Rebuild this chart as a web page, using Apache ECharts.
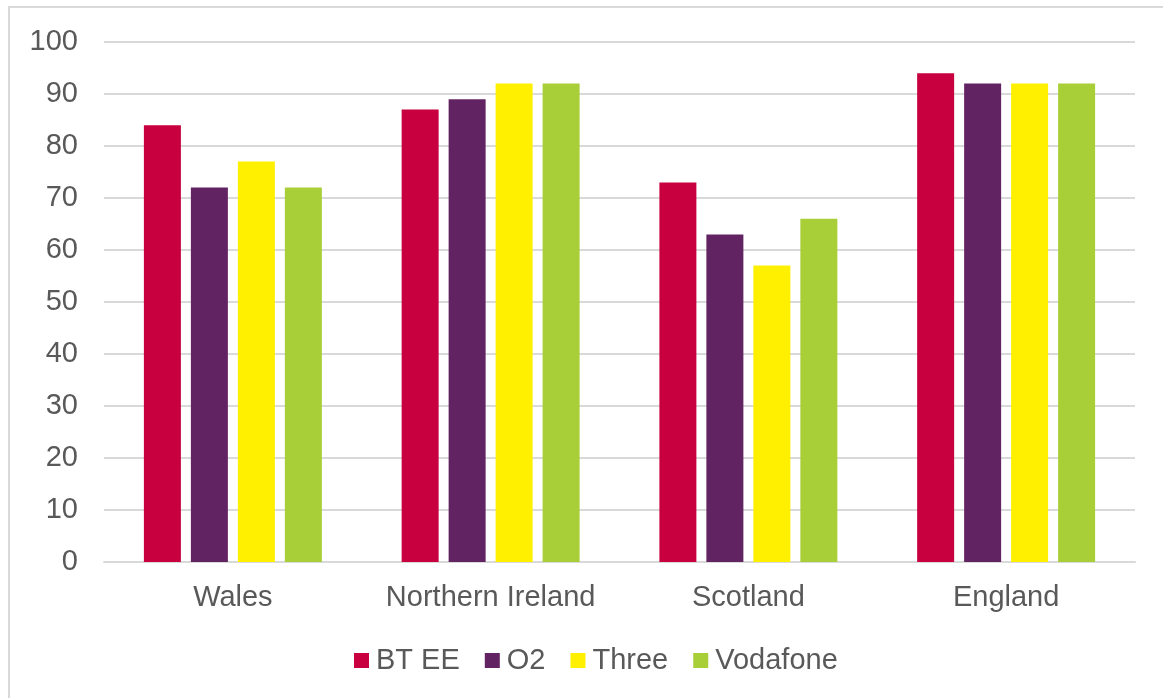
<!DOCTYPE html>
<html>
<head>
<meta charset="utf-8">
<script src="https://cdn.jsdelivr.net/npm/echarts@6/dist/echarts.min.js"></script>
<style>
html,body{margin:0;padding:0;background:#fff;}
#chart{width:1163px;height:698px;}
</style>
</head>
<body>
<div id="chart"></div>
<script>
const categories = ['Wales', 'Northern Ireland', 'Scotland', 'England'];
const seriesNames = ['BT EE', 'O2', 'Three', 'Vodafone'];
const btee = [84, 87, 73, 94];
const o2 = [72, 89, 63, 92];
const three = [77, 92, 57, 92];
const vodafone = [72, 92, 66, 92];
const colors = ['#C8003F', '#622363', '#FFF000', '#A8CE38'];
const yTicks = { min: 0, max: 100, interval: 10 };

const values = [btee, o2, three, vodafone];
const chart = echarts.init(document.getElementById('chart'));
const font = '"Liberation Sans", Arial, sans-serif';
chart.setOption({
  animation: false,
  backgroundColor: '#fff',
  graphic: [{
    type: 'rect',
    shape: { x: 9, y: 7, width: 1300, height: 900 },
    style: { fill: 'none', stroke: '#d9d9d9', lineWidth: 2 },
    silent: true
  }],
  grid: { left: 104, right: 28, top: 42, bottom: 136, containLabel: false },
  legend: {
    data: seriesNames,
    left: 349,
    top: 641,
    itemWidth: 15,
    itemHeight: 15,
    itemGap: 25,
    icon: 'rect',
    textStyle: { fontFamily: font, fontSize: 29, color: '#595959', padding: [0, 0, 0, 2] }
  },
  xAxis: {
    type: 'category',
    data: categories,
    axisLine: { show: true, lineStyle: { color: '#d9d9d9', width: 2 } },
    axisTick: { show: false },
    axisLabel: { fontFamily: font, fontSize: 29, color: '#595959', margin: 21, interval: 0 }
  },
  yAxis: {
    type: 'value',
    min: yTicks.min, max: yTicks.max, interval: yTicks.interval,
    axisLine: { show: false },
    axisTick: { show: false },
    splitLine: { lineStyle: { color: '#d9d9d9', width: 2 } },
    axisLabel: { fontFamily: font, fontSize: 29, color: '#595959', margin: 26 }
  },
  series: seriesNames.map((n, i) => ({
    name: n,
    type: 'bar',
    data: values[i],
    barWidth: 37,
    barGap: '27%',
    itemStyle: { color: colors[i] }
  }))
});
</script>
</body>
</html>
